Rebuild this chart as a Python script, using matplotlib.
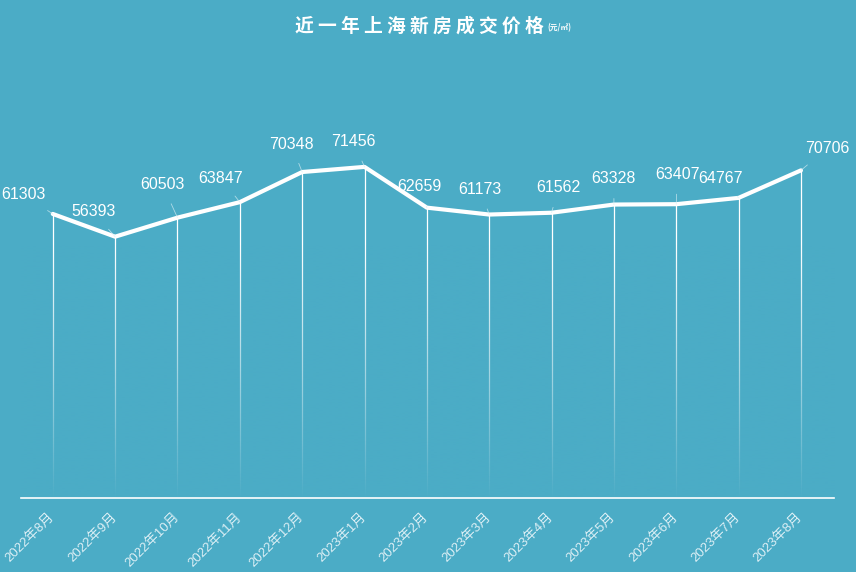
import matplotlib.pyplot as plt
import matplotlib.transforms as mtransforms
from matplotlib.colors import to_rgb
import numpy as np

plt.rcParams['font.family'] = ['Noto Sans CJK SC', 'DejaVu Sans']

months = ['2022年8月', '2022年9月', '2022年10月', '2022年11月', '2022年12月',
          '2023年1月', '2023年2月', '2023年3月', '2023年4月', '2023年5月',
          '2023年6月', '2023年7月', '2023年8月']
prices = [61303, 56393, 60503, 63847, 70348, 71456, 62659,
          61173, 61562, 63328, 63407, 64767, 70706]
# label offsets (pixels) relative to each data point
label_dx = [-29, -22, -15, -19, -11, -11, -7, -9, 7, 0, 1, -18, 26]
label_dy = [19, 25, 33, 24, 28, 25, 21, 25, 25, 26, 30, 19, 22]

bg = '#4bacc6'
fig = plt.figure(figsize=(8.56, 5.72), dpi=100, facecolor=bg)
ax = fig.add_axes([0.0245, 0.1294, 0.9498, 0.7412], facecolor=bg)

x = np.arange(len(months))
ax.vlines(x, 0, prices, colors='white', linewidth=0.9, zorder=2)

# fade the drop lines toward the base with a background-coloured gradient
grad = np.zeros((256, 1, 4))
grad[..., :3] = to_rgb(bg)
grad[:, 0, 3] = np.clip(1 - np.linspace(0, 1, 256) / 0.6, 0, 1)
ax.imshow(grad, extent=[0, 1, 0, 1], transform=ax.transAxes, origin='lower',
          aspect='auto', zorder=2.5, interpolation='bilinear')

ax.plot(x, prices, color='white', linewidth=3, zorder=3, solid_capstyle='round')

for i, v in enumerate(prices):
    ax.annotate(str(v), (x[i], v), xytext=(label_dx[i], label_dy[i]),
                textcoords='offset pixels', ha='center', va='center',
                color='white', fontsize=11.5, family='Liberation Sans',
                arrowprops=dict(arrowstyle='-', color='#d8eef4', lw=0.6,
                                alpha=0.7, shrinkA=7, shrinkB=0))

ax.set_xlim(-0.51, 12.53)
ax.set_ylim(0, 91500)
for s in ['top', 'right', 'left']:
    ax.spines[s].set_visible(False)
ax.spines['bottom'].set_color('white')
ax.spines['bottom'].set_linewidth(1.2)
ax.spines['bottom'].set_zorder(4)
ax.set_yticks([])
ax.set_xticks(x)
ax.set_xticklabels(months, rotation=45, ha='right', va='top',
                   rotation_mode='anchor', color='#dcEff5', fontsize=9.5,
                   family=['Liberation Sans', 'Noto Sans CJK SC'])
ax.tick_params(axis='x', length=0, pad=9)
shift = mtransforms.ScaledTranslation(-5 / 100, 0, fig.dpi_scale_trans)
for lbl in ax.get_xticklabels():
    lbl.set_transform(lbl.get_transform() + shift)

fig.text(0.4895, 0.955, '近 一 年 上 海 新 房 成 交 价 格', ha='center', va='center',
         color='white', fontsize=13.5, fontweight='bold')
fig.text(0.640, 0.951, '(元/㎡)', ha='left', va='center',
         color='white', fontsize=5.5, fontweight='bold')

fig.savefig('out.png', dpi=100, facecolor=bg)
